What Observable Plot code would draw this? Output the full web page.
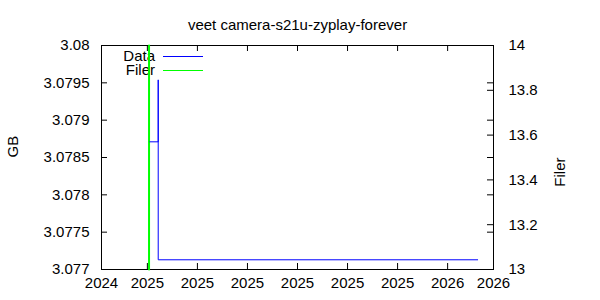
<!DOCTYPE html>
<html>
<head>
<meta charset="utf-8">
<script src="https://cdn.jsdelivr.net/npm/d3@7"></script>
<script src="https://cdn.jsdelivr.net/npm/@observablehq/plot@0.6"></script>
<style>
  html, body { margin: 0; padding: 0; background: white; }
  #wrap { position: relative; width: 600px; height: 300px; font-family: "Liberation Sans", Arial, sans-serif; font-size: 15px; }
  #legend { position: absolute; left: 0; top: 0; width: 600px; height: 300px; z-index: 0; }
  #chart { position: absolute; left: 0; top: 0; z-index: 1; }
  .lt { position: absolute; width: 60px; text-align: right; line-height: 13px; }
  .ll { position: absolute; width: 40px; height: 0; }
</style>
</head>
<body>
<div id="wrap">
  <div id="legend"></div>
  <div id="chart"></div>
</div>
<script>
// ---- data ----
const titleText = "veet camera-s21u-zyplay-forever";
const leftLabel = "GB";
const rightLabel = "Filer";
const seriesNames = ["Data", "Filer"];
const seriesColors = ["#0000ff", "#00ff00"];

const xTickDates = ["2024-12-02", "2025-01-26", "2025-03-27", "2025-05-26", "2025-07-25", "2025-09-23", "2025-11-22", "2026-01-21", "2026-03-17"];
const gbTicks = [3.077, 3.0775, 3.078, 3.0785, 3.079, 3.0795, 3.08];
const filerTicks = [13, 13.2, 13.4, 13.6, 13.8, 14];

const dataDates = ["2025-01-29", "2025-02-08", "2025-02-08", "2025-02-08", "2026-02-26"];
const dataGB = [3.07871, 3.07871, 3.07954, 3.07713, 3.07713];

const filerDates = ["2025-01-28", "2025-01-28"];
const filerValues = [13, 14];

// ---- build ----
const gbDomain = [3.077, 3.08];
const filerDomain = [13, 14];
const toY = v => gbDomain[0] + (v - filerDomain[0]) * (gbDomain[1] - gbDomain[0]) / (filerDomain[1] - filerDomain[0]);

const xt = xTickDates.map(d => new Date(d));
const dataRows = dataDates.map((d, i) => ({date: new Date(d), gb: dataGB[i]}));
const filerRows = filerDates.map((d, i) => ({date: new Date(d), value: filerValues[i]}));

const W = 600, H = 300, ML = 101, MR = 107, MT = 45, MB = 31;
const fw = W - ML - MR, fh = H - MT - MB, tl = 6;

const plot = Plot.plot({
  width: W, height: H,
  marginLeft: ML, marginRight: MR, marginTop: MT, marginBottom: MB,
  x: {type: "utc", domain: [xt[0], xt[xt.length - 1]]},
  y: {domain: gbDomain},
  style: {fontFamily: "Liberation Sans, Arial, sans-serif", fontSize: "15px", background: "transparent", overflow: "visible"},
  marks: [
    Plot.frame({stroke: "black"}),
    Plot.line(filerRows, {x: "date", y: d => toY(d.value), stroke: seriesColors[1], strokeWidth: 2}),
    Plot.line(dataRows, {x: "date", y: "gb", stroke: seriesColors[0], strokeWidth: 1}),
    Plot.tickX(xt, {x: d => d, insetTop: fh - tl, stroke: "black"}),
    Plot.tickX(xt, {x: d => d, insetBottom: fh - tl, stroke: "black"}),
    Plot.tickY(gbTicks, {y: d => d, insetRight: fw - tl, stroke: "black"}),
    Plot.tickY(gbTicks, {y: d => d, insetLeft: fw - tl, stroke: "black"}),
    Plot.tickY(filerTicks, {y: toY, insetLeft: fw - tl, stroke: "black"}),
    Plot.axisX({ticks: xt, tickFormat: d => String(d.getUTCFullYear()), tickSize: 0, tickPadding: 8, label: null}),
    Plot.axisY({ticks: gbTicks, tickFormat: d => String(d), tickSize: 0, tickPadding: 12, label: null}),
    Plot.text(filerTicks, {y: toY, text: d => String(d), frameAnchor: "right", textAnchor: "start", dx: 15}),
    Plot.text([titleText], {text: d => d, frameAnchor: "top", dy: -26, ariaLabel: "title"}),
    Plot.text([leftLabel], {text: d => d, frameAnchor: "left", dx: -88, rotate: -90}),
    Plot.text([rightLabel], {text: d => d, frameAnchor: "right", dx: 67, rotate: -90})
  ]
});
document.getElementById("chart").appendChild(plot);
const tt = plot.querySelector('g[aria-label="title"] text');
if (tt) tt.style.letterSpacing = "1.1px";

// legend (behind the plot, as in the reference)
const legend = document.getElementById("legend");
const legendPos = [{ty: 49, ly: 56}, {ty: 63, ly: 70}];
seriesNames.forEach((name, i) => {
  const t = document.createElement("div");
  t.className = "lt";
  t.textContent = name;
  t.style.left = (155 - 60) + "px";
  t.style.top = legendPos[i].ty + "px";
  legend.appendChild(t);
  const l = document.createElement("div");
  l.className = "ll";
  l.style.left = "163px";
  l.style.top = legendPos[i].ly + "px";
  l.style.borderTop = "1px solid " + seriesColors[i];
  legend.appendChild(l);
});
</script>
</body>
</html>
